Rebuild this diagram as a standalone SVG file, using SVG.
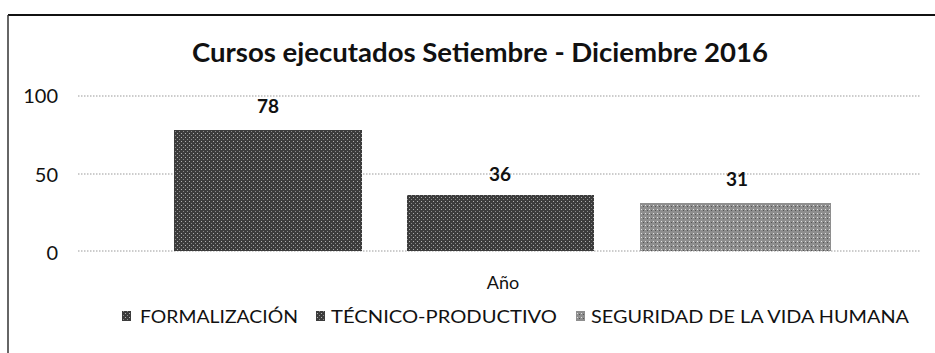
<svg xmlns="http://www.w3.org/2000/svg" width="935" height="353" viewBox="0 0 935 353">
<style>
.t{font-family:Lato,"Open Sans","Liberation Sans",sans-serif;fill:#111}
.title{font-size:26px;font-weight:bold}
.ax{font-size:20px;text-anchor:end}
.val{font-size:19px;font-weight:bold;text-anchor:middle}
.leg{font-size:18px}
.grid{stroke:#9a9a9a;stroke-width:1.2;stroke-dasharray:1.5 1.5}
</style>
<defs>
<pattern id="pd" width="4" height="4" patternUnits="userSpaceOnUse">
<rect width="4" height="4" fill="#3c3c3c"/>
<rect x="1" y="1" width="1" height="1" fill="#b0b0b0"/>
<rect x="3" y="3" width="1" height="1" fill="#8a8a8a"/>
</pattern>
<pattern id="pl" width="4" height="4" patternUnits="userSpaceOnUse">
<rect width="4" height="4" fill="#8e8e8e"/>
<rect x="1" y="1" width="1" height="1" fill="#e0e0e0"/>
<rect x="3" y="2" width="1" height="1" fill="#555"/>
</pattern>
</defs>
<rect width="935" height="353" fill="#fff"/>
<g id="frame">
<line x1="8" y1="15" x2="935" y2="15" stroke="#111" stroke-width="2"/>
<line x1="8" y1="15" x2="8" y2="353" stroke="#333" stroke-width="1.5"/>
</g>
<g id="title"><text class="t title" x="480" y="62" text-anchor="middle" textLength="576" lengthAdjust="spacingAndGlyphs">Cursos ejecutados Setiembre - Diciembre 2016</text></g>
<g id="axis">
<line class="grid" x1="78" y1="96" x2="920" y2="96"/>
<line class="grid" x1="78" y1="174" x2="920" y2="174"/>
<line class="grid" x1="78" y1="251" x2="920" y2="251"/>
<text class="t ax" x="58" y="103">100</text>
<text class="t ax" x="58" y="182">50</text>
<text class="t ax" x="58" y="260">0</text>
<text class="t" x="503" y="289" font-size="18" text-anchor="middle">Año</text>
</g>
<g id="bar-formalizacion">
<rect x="174" y="130" width="188" height="121" fill="url(#pd)"/>
<text class="t val" x="268" y="113">78</text>
</g>
<g id="bar-tecnico">
<rect x="407" y="195" width="187" height="56" fill="url(#pd)"/>
<text class="t val" x="500" y="181">36</text>
</g>
<g id="bar-seguridad">
<rect x="640" y="203" width="191" height="48" fill="url(#pl)"/>
<text class="t val" x="737" y="186">31</text>
</g>
<g id="legend">
<rect x="122" y="311" width="9" height="10" fill="url(#pd)"/>
<text class="t leg" x="140" y="323" textLength="158" lengthAdjust="spacingAndGlyphs">FORMALIZACIÓN</text>
<rect x="316" y="311" width="9" height="10" fill="url(#pd)"/>
<text class="t leg" x="331" y="323" textLength="226" lengthAdjust="spacingAndGlyphs">TÉCNICO-PRODUCTIVO</text>
<rect x="576" y="311" width="9" height="10" fill="url(#pl)"/>
<text class="t leg" x="591" y="323" textLength="318" lengthAdjust="spacingAndGlyphs">SEGURIDAD DE LA VIDA HUMANA</text>
</g>
</svg>
